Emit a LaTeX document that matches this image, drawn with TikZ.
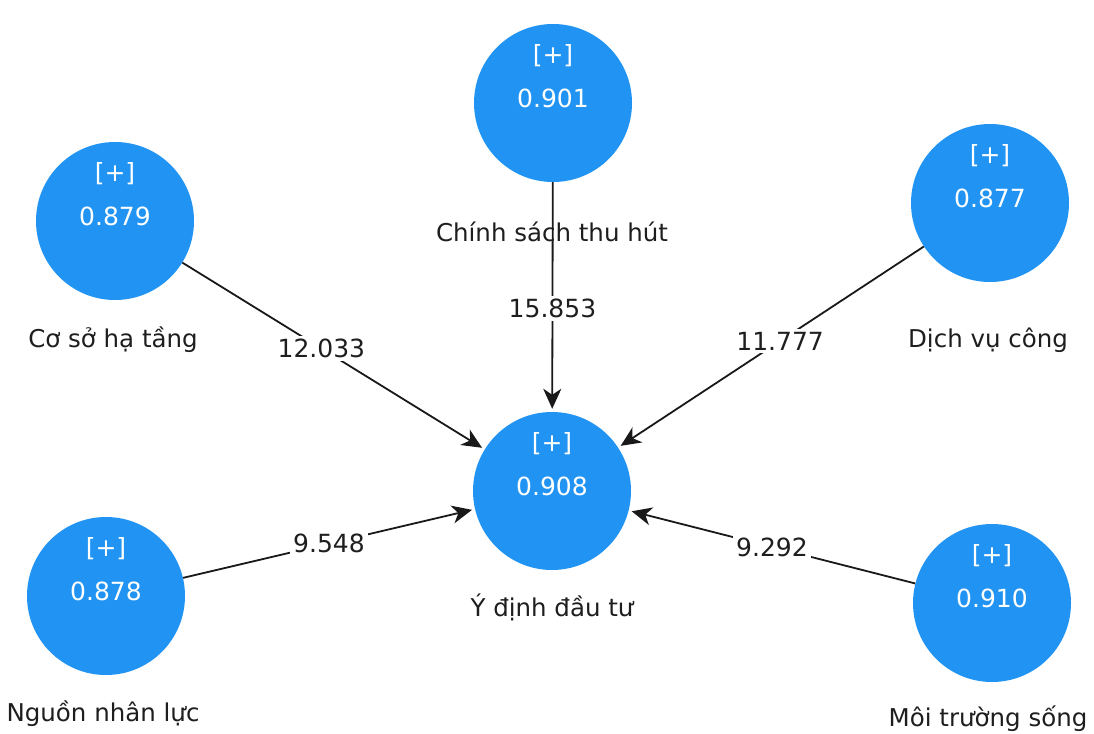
\documentclass[tikz,border=0pt]{standalone}
\usepackage{fontspec}
\setmainfont{DejaVu Sans}
\usetikzlibrary{arrows.meta}
\definecolor{lvblue}{RGB}{33,148,243}
\definecolor{txt}{RGB}{30,30,30}
\tikzset{
  lv/.style={circle, fill=lvblue, minimum size=158pt, inner sep=0pt},
  intxt/.style={text=white, font=\fontsize{25}{28}\selectfont},
  nm/.style={text=txt, font=\fontsize{24.5}{28}\selectfont},
  path/.style={draw=black!90, line width=1.8pt, -{Stealth[length=20pt,width=18pt,inset=6pt]}, shorten >=3pt},
  wt/.style={fill=white, text=txt, font=\fontsize{25}{28}\selectfont, inner sep=3pt}
}
\begin{document}
\begin{tikzpicture}[x=1pt,y=-1pt]
\useasboundingbox (0,0) rectangle (1094,733);
\fill[white] (0,0) rectangle (1094,733);
% latent variables
\node[lv] (cs) at (553,103) {};
\node[lv] (ht) at (115,221) {};
\node[lv] (dv) at (990,203) {};
\node[lv] (yd) at (552,491) {};
\node[lv] (nl) at (106,596) {};
\node[lv] (mt) at (992,603) {};
% paths
\draw[path] (cs) -- node[wt, pos=0.55] (w1) {15.853} (yd);
\draw[path] (ht) -- node[wt, pos=0.46] (w2) {12.033} (yd);
\draw[path] (dv) -- node[wt, pos=0.47] (w3) {11.777} (yd);
\draw[path] (nl) -- node[wt, pos=0.5] (w4) {9.548} (yd);
\draw[path] (mt) -- node[wt, pos=0.5] (w5) {9.292} (yd);
% inner texts
\foreach \n/\v in {cs/0.901, ht/0.879, dv/0.877, yd/0.908, nl/0.878, mt/0.910}{
  \node[intxt] (\n p) at ([yshift=47pt]\n.center) {[+]};
  \node[intxt] (\n v) at ([yshift=5pt]\n.center) {\v};
}
% names
\node[nm] (lcs) at (552,232) {Chính sách thu hút};
\node[nm] (lht) at (113,340) {Cơ sở hạ tầng};
\node[nm] (ldv) at (988,340) {Dịch vụ công};
\node[nm] (lyd) at (552,607) {Ý định đầu tư};
\node[nm] (lnl) at (103,714) {Nguồn nhân lực};
\node[nm] (lmt) at (988,719) {Môi trường sống};
\end{tikzpicture}
\end{document}
